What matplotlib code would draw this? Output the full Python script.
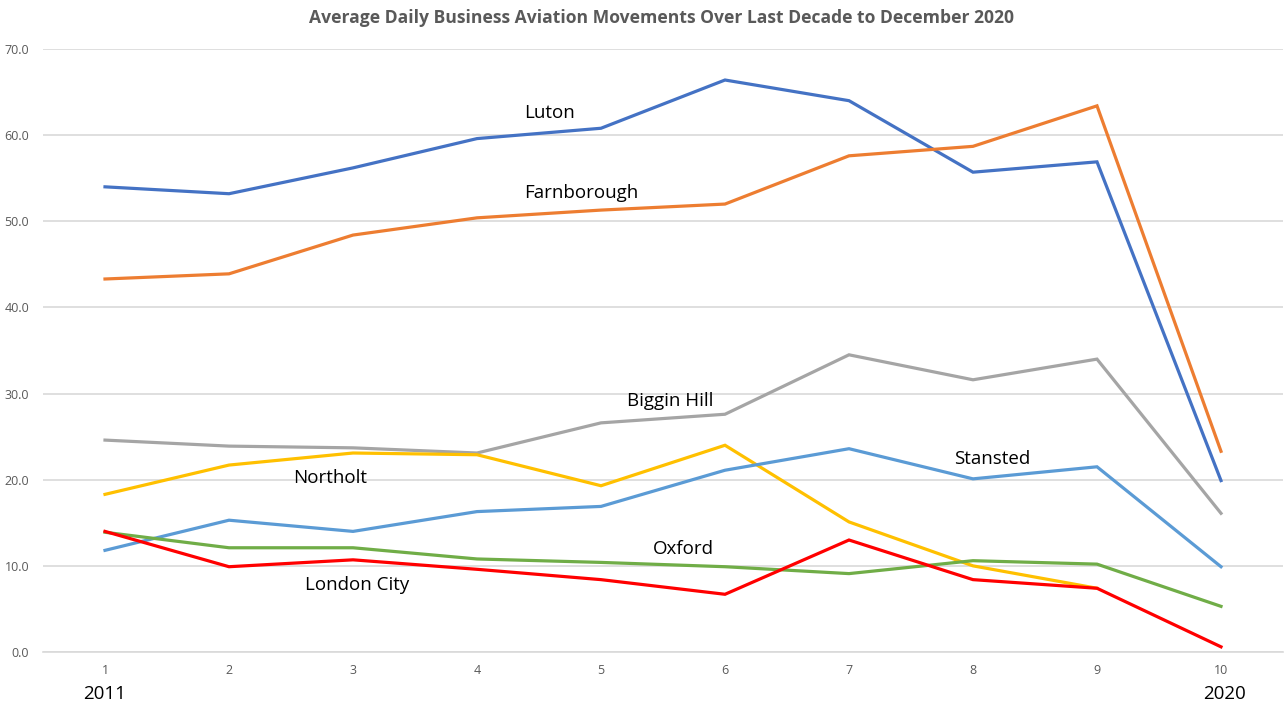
import matplotlib
matplotlib.use('Agg')
import matplotlib.pyplot as plt
import numpy as np

years = [1, 2, 3, 4, 5, 6, 7, 8, 9, 10]

luton = [54.0, 53.2, 56.2, 59.6, 60.8, 66.4, 64.0, 55.7, 56.9, 19.9]
farnborough = [43.3, 43.9, 48.4, 50.4, 51.3, 52.0, 57.6, 58.7, 63.4, 23.3]
biggin_hill = [24.6, 23.9, 23.7, 23.1, 26.6, 27.6, 34.5, 31.6, 34.0, 16.1]
northolt = [18.3, 21.7, 23.1, 22.9, 19.3, 24.0, 15.1, 10.0, 7.4, np.nan]
stansted = [11.8, 15.3, 14.0, 16.3, 16.9, 21.1, 23.6, 20.1, 21.5, 9.9]
oxford = [13.9, 12.1, 12.1, 10.8, 10.4, 9.9, 9.1, 10.6, 10.2, 5.3]
london_city = [14.0, 9.9, 10.7, 9.6, 8.4, 6.7, 13.0, 8.4, 7.4, 0.6]

# label text, left x, y (data coords)
labels = [
    ('Luton', 4.38, 62.6),
    ('Farnborough', 4.38, 53.3),
    ('Biggin Hill', 5.21, 29.1),
    ('Stansted', 7.85, 22.4),
    ('Northolt', 2.52, 20.2),
    ('Oxford', 5.42, 11.9),
    ('London City', 2.61, 7.8),
]

plt.rcParams['font.family'] = ['Open Sans', 'DejaVu Sans']

fig = plt.figure(figsize=(12.85, 7.05), dpi=100)
ax = fig.add_axes([43 / 1285, 1 - 652 / 705, 1240 / 1285, 603 / 705])

series = [
    (luton, '#4472C4'),
    (farnborough, '#ED7D31'),
    (biggin_hill, '#A5A5A5'),
    (northolt, '#FFC000'),
    (stansted, '#5B9BD5'),
    (oxford, '#70AD47'),
    (london_city, '#FF0000'),
]
for vals, col in series:
    ax.plot(years, vals, color=col, linewidth=2.3, solid_joinstyle='miter', zorder=3)

ax.set_xlim(0.5, 10.5)
ax.set_ylim(0, 70)
ax.set_yticks(np.arange(0, 71, 10))
ax.set_yticklabels([f'{v:.1f}' for v in np.arange(0, 71, 10)])
ax.set_xticks(years)
ax.grid(axis='y', color='#D9D9D9', linewidth=1.2, zorder=0)
for s in ['top', 'right', 'left']:
    ax.spines[s].set_visible(False)
ax.spines['bottom'].set_color('#D9D9D9')
ax.spines['bottom'].set_linewidth(1.2)
ax.tick_params(axis='both', length=0, colors='#595959', labelsize=9)
ax.tick_params(axis='y', pad=10)
ax.tick_params(axis='x', pad=9)

for txt, x, y in labels:
    ax.text(x, y, txt, fontsize=13.5, color='black', ha='left', va='center')

ax.text(1, -4.9, '2011', fontsize=13.5, ha='center', va='center')
ax.text(10.03, -4.9, '2020', fontsize=13.5, ha='center', va='center')

fig.text(0.515, 0.974, 'Average Daily Business Aviation Movements Over Last Decade to December 2020',
         fontsize=12.6, fontweight='bold', color='#595959', ha='center', va='center')

fig.savefig('out.png', dpi=100)
